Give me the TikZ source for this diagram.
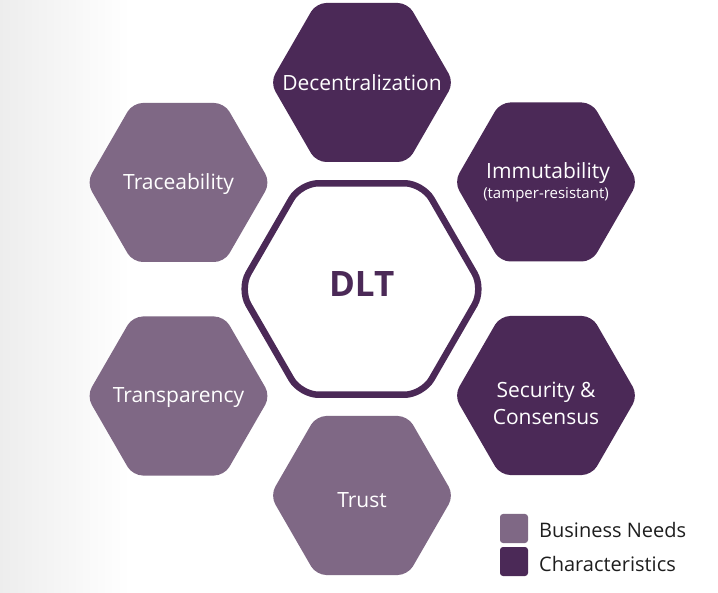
\documentclass[tikz,border=0pt]{standalone}
\usepackage{fontspec}
\setmainfont{Open Sans}
\definecolor{lightp}{RGB}{127,104,133}
\definecolor{darkp}{RGB}{75,41,87}
\definecolor{legtext}{RGB}{30,30,30}
\newcommand{\hexshape}[4]{%
  \path[#1] ([shift={(#2,#3)}]90:{0.8660254*#4}) -- ([shift={(#2,#3)}]120:#4) -- ([shift={(#2,#3)}]180:#4) -- ([shift={(#2,#3)}]240:#4) -- ([shift={(#2,#3)}]300:#4) -- ([shift={(#2,#3)}]0:#4) -- ([shift={(#2,#3)}]60:#4) -- cycle;}
\begin{document}
\begin{tikzpicture}[x=1pt,y=-1pt,
  lab/.style={text=white, font=\fontsize{21}{27}\selectfont, align=center, inner sep=0pt},
  smalllab/.style={text=white, font=\fontsize{15}{18}\selectfont, inner sep=0pt},
  legend/.style={text=legtext, font=\fontsize{20}{24}\selectfont, anchor=west, inner sep=0pt},
  need/.style={fill=lightp, rounded corners=10pt},
  chara/.style={fill=darkp, rounded corners=10pt},
  core/.style={draw=darkp, fill=white, line width=6.5pt, rounded corners=18pt}]
\useasboundingbox (0,0) rectangle (718,593);
\fill[white] (0,0) rectangle (718,593);
\shade[left color=black!7, right color=white] (0,0) rectangle (130,593);
% hexagons
\hexshape{chara}{362}{82.5}{91.8}
\hexshape{need}{178.5}{182.5}{91.8}
\hexshape{chara}{546}{182}{91.8}
\hexshape{need}{178.5}{396}{91.8}
\hexshape{chara}{546}{395.5}{91.8}
\hexshape{need}{362}{495.5}{91.8}
\hexshape{core}{361.5}{289}{122.1}
% labels
\node[lab] (dec) at (362,83) {Decentralization};
\node[lab] (trace) at (178.5,184.5) {Traceability};
\node[lab] (imm) at (548,173) {Immutability};
\node[smalllab] (tamper) at (546,195) {(tamper-resistant)};
\node[lab] (transp) at (178.5,397.5) {Transparency};
\node[lab] (sec) at (546,403) {Security \&\\Consensus};
\node[lab] (trust) at (362,500) {Trust};
\node[text=darkp, font=\fontsize{35}{40}\selectfont\bfseries, inner sep=0pt] (dlt) at (361.7,284) {DLT};
% legend
\fill[lightp, rounded corners=3pt] (500,514) rectangle (528,543);
\fill[darkp, rounded corners=3pt] (500,547) rectangle (528,576);
\node[legend] (bn) at (539,530) {Business Needs};
\node[legend] (ch) at (539,564) {Characteristics};
\end{tikzpicture}
\end{document}
